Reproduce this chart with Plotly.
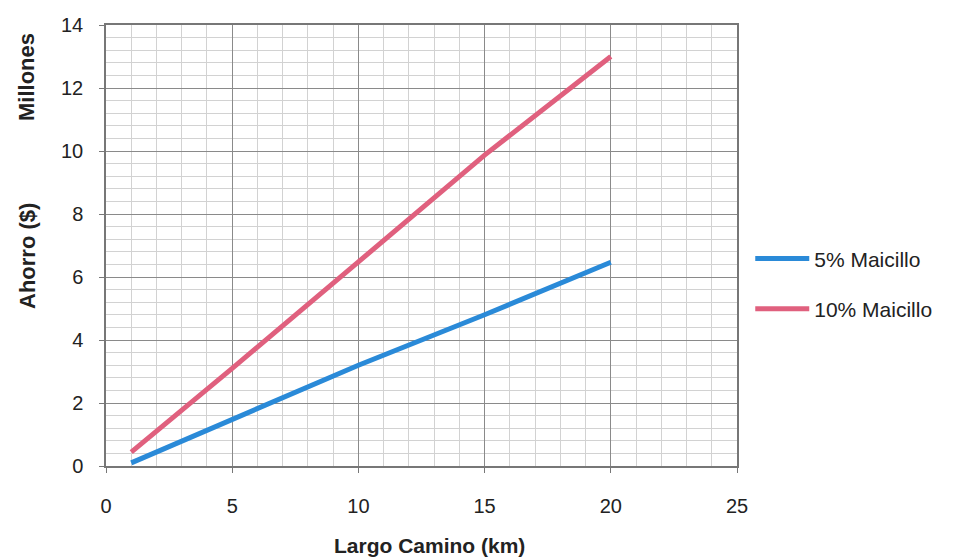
import plotly.graph_objects as go

largo_km = [1, 5, 10, 15, 20]
ahorro_5 = [0.10, 1.46, 3.20, 4.80, 6.47]
ahorro_10 = [0.44, 3.10, 6.48, 9.87, 13.00]
names = ["5% Maicillo", "10% Maicillo"]
x_ticks = [0, 5, 10, 15, 20, 25]
y_ticks = [0, 2, 4, 6, 8, 10, 12, 14]

# page has an 8px body margin; compensate
OFF = 8
W, H = 956 - OFF, 560 - OFF
PL, PT, PR, PB = 106, 25, 737, 466  # target plot box in window pixels
L = PL - OFF
T = PT - OFF
pw = PR - PL
ph = PB - PT
R = W - L - pw
B = H - T - ph

FONT = "Liberation Sans, Arial, sans-serif"

fig = go.Figure()
fig.add_trace(go.Scatter(x=largo_km, y=ahorro_5, mode="lines", name=names[0],
                         line=dict(color="#2a8ad8", width=5), legendgroup="a"))
fig.add_trace(go.Scatter(x=largo_km, y=ahorro_10, mode="lines", name=names[1],
                         line=dict(color="#e0607e", width=5), legendgroup="b"))

axis_common = dict(
    showline=True, linecolor="#777", linewidth=1.5, mirror=True,
    showgrid=True, gridcolor="#8a8a8a", gridwidth=1.2,
    ticks="outside", ticklen=5, tickcolor="#777",
    zeroline=False,
    tickfont=dict(family=FONT, size=20, color="#222"),
)

fig.update_xaxes(range=[0, 25], tickvals=x_ticks, ticktext=[str(v) for v in x_ticks],
                 ticklabelstandoff=16,
                 minor=dict(dtick=1, tick0=0, showgrid=True, gridcolor="#d2d2d2", gridwidth=1, ticks=""),
                 **axis_common)
fig.update_yaxes(range=[0, 14], tickvals=y_ticks, ticktext=[str(v) for v in y_ticks],
                 ticklabelstandoff=12,
                 minor=dict(dtick=0.4, tick0=0, showgrid=True, gridcolor="#d2d2d2", gridwidth=1, ticks=""),
                 **axis_common)

fig.add_annotation(text="<b>Ahorro ($)</b>", xref="paper", yref="paper",
                   x=(27 - PL) / pw, y=(PB - 256) / ph, textangle=-90, showarrow=False,
                   xanchor="center", yanchor="middle",
                   font=dict(family=FONT, size=22, color="#222"))
fig.add_annotation(text="<b>Millones</b>", xref="paper", yref="paper",
                   x=(27 - PL) / pw, y=(PB - 77) / ph, textangle=-90, showarrow=False,
                   xanchor="center", yanchor="middle",
                   font=dict(family=FONT, size=22, color="#222"))
fig.add_annotation(text="<b>Largo Camino (km)</b>", xref="paper", yref="paper",
                   x=(430 - PL) / pw, y=-(545 - PB) / ph, showarrow=False,
                   xanchor="center", yanchor="middle",
                   font=dict(family=FONT, size=21, color="#222"))

fig.update_layout(
    width=W, height=H,
    margin=dict(l=L, r=R, t=T, b=B, autoexpand=False),
    paper_bgcolor="white", plot_bgcolor="white",
    showlegend=True,
    legend=dict(x=1.021, xanchor="left", y=0.413, yanchor="middle",
                font=dict(family=FONT, size=21, color="#222"),
                tracegroupgap=20, itemwidth=54, bgcolor="rgba(0,0,0,0)"),
)

fig.write_html("out.html")
